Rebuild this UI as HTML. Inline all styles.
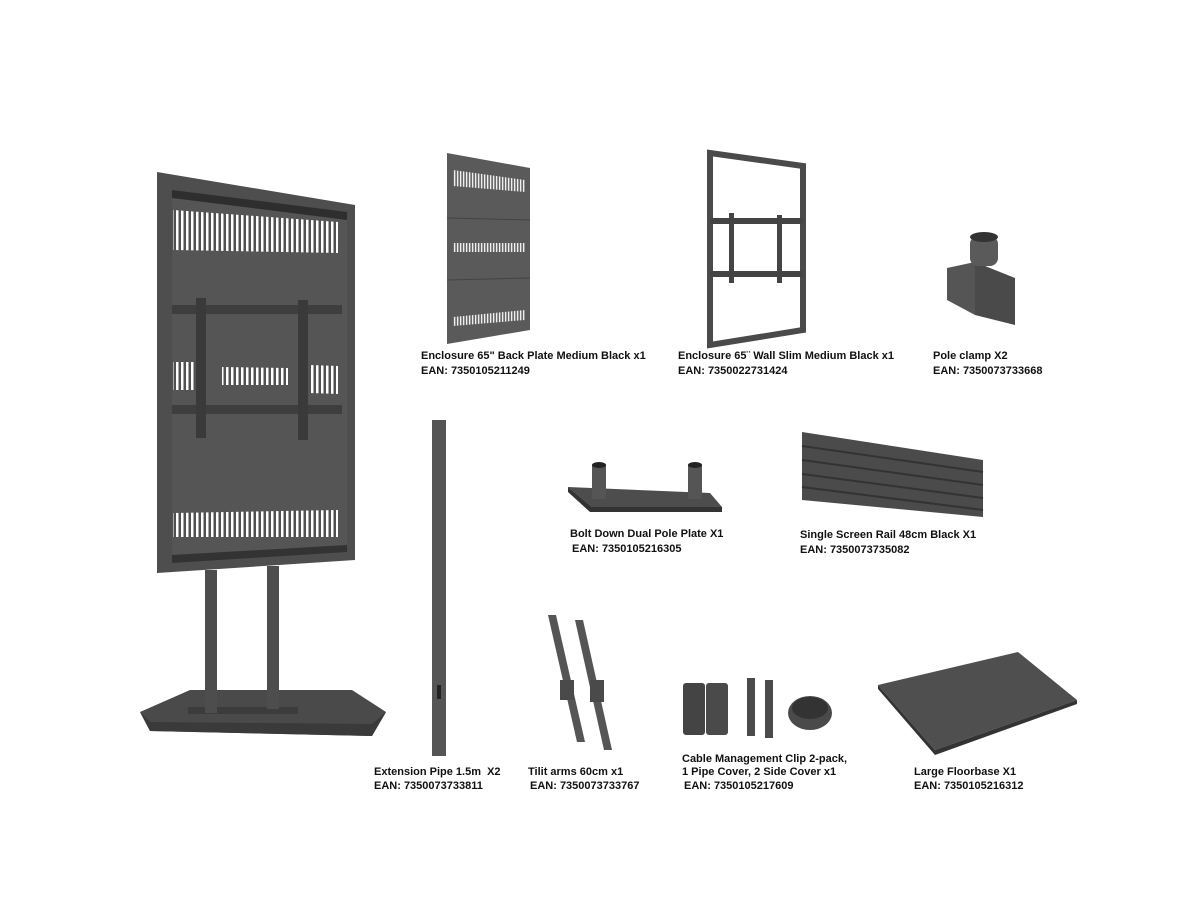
<!DOCTYPE html>
<html><head><meta charset="utf-8"><style>
html,body{margin:0;padding:0;background:#fff;}
svg{display:block}
text{font-family:"Liberation Sans",Arial,sans-serif;font-weight:bold;font-size:11px;fill:#111}
</style></head><body>
<svg width="1200" height="901" viewBox="0 0 1200 901" xmlns="http://www.w3.org/2000/svg">
<defs>
<pattern id="slots" width="5" height="10" patternUnits="userSpaceOnUse"><rect width="5" height="10" fill="#505050"/><rect x="1" width="2.5" height="10" fill="#fff"/></pattern>
<pattern id="slots2" width="3" height="10" patternUnits="userSpaceOnUse"><rect width="3" height="10" fill="#6a6a6a"/><rect x="1" width="1.3" height="10" fill="#eee"/></pattern>
</defs>
<!-- main unit -->
<polygon points="140,712 190,690 352,690 386,712 372,736 150,731" fill="#4a4a4a"/>
<polygon points="140,712 150,731 372,736 386,712 372,724 150,722" fill="#3a3a3a"/>
<rect x="188" y="707" width="110" height="7" fill="#3c3c3c"/>
<rect x="205" y="570" width="12" height="143" fill="#4d4d4d"/>
<rect x="267" y="566" width="12" height="143" fill="#4d4d4d"/>
<polygon points="157,172 355,205 355,560 157,573" fill="#4e4e4e"/>
<polygon points="172,190 347,212 347,552 172,563" fill="#555"/>
<polygon points="172,190 347,212 347,220 172,198" fill="#2e2e2e"/>
<polygon points="172,555 347,545 347,552 172,563" fill="#333"/>
<polygon points="173,210 338,222 338,253 173,250" fill="url(#slots)"/>
<polygon points="173,362 195,362 195,390 173,390" fill="url(#slots)"/>
<polygon points="310,365 338,366 338,394 310,393" fill="url(#slots)"/>
<polygon points="222,367 288,368 288,385 222,385" fill="url(#slots)"/>
<polygon points="173,513 338,510 338,537 173,537" fill="url(#slots)"/>
<rect x="172" y="305" width="170" height="9" fill="#3e3e3e"/>
<rect x="172" y="405" width="170" height="9" fill="#3e3e3e"/>
<rect x="196" y="298" width="10" height="140" fill="#3a3a3a"/>
<rect x="298" y="300" width="10" height="140" fill="#3a3a3a"/>
<!-- back plate -->
<polygon points="447,153 530,168 530,330 447,344" fill="#5a5a5a"/>
<polygon points="453,170 525,180 525,192 453,186" fill="url(#slots2)"/>
<polygon points="453,243 525,243 525,252 453,252" fill="url(#slots2)"/>
<polygon points="453,317 525,310 525,320 453,326" fill="url(#slots2)"/>
<line x1="447" y1="218" x2="530" y2="220" stroke="#444"/>
<line x1="447" y1="280" x2="530" y2="278" stroke="#444"/>
<!-- wall frame -->
<polygon points="710,153 803,166 803,330 710,345" fill="none" stroke="#4a4a4a" stroke-width="6"/>
<rect x="710" y="218" width="93" height="6" fill="#444"/>
<rect x="710" y="271" width="93" height="6" fill="#444"/>
<rect x="729" y="213" width="5" height="70" fill="#444"/>
<rect x="777" y="215" width="5" height="68" fill="#444"/>
<!-- pole clamp -->
<polygon points="947,268 975,262 975,315 947,300" fill="#555"/>
<polygon points="975,262 1015,278 1015,325 975,315" fill="#4a4a4a"/>
<rect x="970" y="236" width="28" height="30" rx="8" fill="#5a5a5a"/>
<ellipse cx="984" cy="237" rx="14" ry="5" fill="#333"/>
<!-- extension pipe -->
<rect x="432" y="420" width="14" height="336" fill="#555"/>
<rect x="437" y="685" width="4" height="14" fill="#222"/>
<!-- pole plate -->
<polygon points="568,487 710,493 722,507 592,507" fill="#4d4d4d"/>
<polygon points="568,487 592,507 722,507 722,512 590,512 568,492" fill="#333"/>
<rect x="592" y="465" width="14" height="34" fill="#555"/>
<ellipse cx="599" cy="465" rx="7" ry="3" fill="#222"/>
<rect x="688" y="465" width="14" height="34" fill="#555"/>
<ellipse cx="695" cy="465" rx="7" ry="3" fill="#222"/>
<!-- rail -->
<polygon points="802,432 983,460 983,517 802,500" fill="#4b4b4b"/>
<g stroke="#333" stroke-width="2"><line x1="802" y1="446" x2="983" y2="472"/><line x1="802" y1="460" x2="983" y2="485"/><line x1="802" y1="474" x2="983" y2="498"/><line x1="802" y1="487" x2="983" y2="510"/></g>
<!-- tilt arms -->
<polygon points="548,615 556,615 585,742 577,742" fill="#555"/>
<polygon points="575,620 583,620 612,750 604,750" fill="#555"/>
<rect x="560" y="680" width="14" height="20" fill="#4a4a4a"/>
<rect x="590" y="680" width="14" height="22" fill="#4a4a4a"/>
<!-- cable parts -->
<rect x="683" y="683" width="22" height="52" rx="3" fill="#444"/>
<rect x="706" y="683" width="22" height="52" rx="3" fill="#4a4a4a"/>
<rect x="747" y="678" width="8" height="58" fill="#4a4a4a"/>
<rect x="765" y="680" width="8" height="58" fill="#4a4a4a"/>
<ellipse cx="810" cy="713" rx="22" ry="17" fill="#4a4a4a"/>
<ellipse cx="810" cy="708" rx="18" ry="11" fill="#333"/>
<!-- floorbase -->
<polygon points="878,685 1018,652 1077,700 935,750" fill="#4f4f4f"/>
<polygon points="878,685 935,750 1077,700 1077,704 935,755 878,689" fill="#333"/>
<!-- labels -->
<text x="421" y="359">Enclosure 65" Back Plate Medium Black x1</text>
<text x="421" y="374">EAN: 7350105211249</text>
<text x="678" y="359">Enclosure 65¨ Wall Slim Medium Black x1</text>
<text x="678" y="374">EAN: 7350022731424</text>
<text x="933" y="359">Pole clamp X2</text>
<text x="933" y="374">EAN: 7350073733668</text>
<text x="570" y="537">Bolt Down Dual Pole Plate X1</text>
<text x="572" y="552">EAN: 7350105216305</text>
<text x="800" y="538">Single Screen Rail 48cm Black X1</text>
<text x="800" y="553">EAN: 7350073735082</text>
<text x="374" y="775" xml:space="preserve">Extension Pipe 1.5m  X2</text>
<text x="374" y="789">EAN: 7350073733811</text>
<text x="528" y="775">Tilit arms 60cm x1</text>
<text x="530" y="789">EAN: 7350073733767</text>
<text x="682" y="762">Cable Management Clip 2-pack,</text>
<text x="682" y="775">1 Pipe Cover, 2 Side Cover x1</text>
<text x="684" y="789">EAN: 7350105217609</text>
<text x="914" y="775">Large Floorbase X1</text>
<text x="914" y="789">EAN: 7350105216312</text>
</svg>
</body></html>
